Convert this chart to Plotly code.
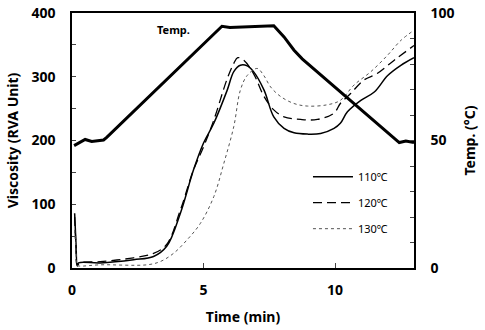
import plotly.graph_objects as go

# Temperature profile (right axis, °C)
temp_t = [0.08, 0.5, 0.75, 1.2, 1.32, 5.7, 6.0, 6.4, 7.67, 8.06, 8.44, 8.75, 12.31, 12.44, 12.69, 13.0]
temp_v = [48.0, 50.4, 49.6, 50.2, 51.2, 94.8, 94.3, 94.5, 95.0, 90.6, 85.4, 82.0, 50.2, 49.2, 49.8, 49.2]

# Viscosity 110 °C
v110_t = [0.1, 0.15, 0.2, 0.25, 1.07, 2.34, 3.1, 3.6, 4.12, 4.62, 5.0, 5.39, 5.9, 6.15, 6.4, 6.66, 6.9, 7.3, 7.67, 8.06, 8.44, 8.95, 9.45, 9.96, 10.2, 10.47, 10.98, 11.49, 12.0, 12.5, 13.0]
v110_v = [86, 40, 3, 8, 8, 13, 18, 34, 86, 154, 196, 227, 279, 308, 318, 317, 308, 279, 237, 219, 212, 210, 211, 219, 227, 245, 263, 276, 302, 318, 330]

# Viscosity 120 °C
v120_t = [0.1, 0.15, 0.2, 0.3, 1.07, 2.34, 3.1, 3.6, 4.12, 4.62, 5.0, 5.39, 5.9, 6.15, 6.3, 6.53, 6.9, 7.3, 7.67, 8.06, 8.69, 9.33, 9.96, 10.2, 10.6, 11.1, 11.6, 12.25, 13.0]
v120_v = [80, 35, 4, 8, 10, 16, 23, 37, 91, 154, 190, 232, 297, 321, 330, 326, 305, 269, 248, 237, 233, 233, 243, 258, 274, 295, 305, 326, 349]

# Viscosity 130 °C
v130_t = [0.1, 0.15, 0.2, 0.3, 1.07, 2.85, 3.35, 3.86, 4.37, 4.88, 5.39, 5.77, 6.15, 6.4, 6.66, 7.04, 7.29, 7.55, 7.93, 8.44, 8.95, 9.7, 10.2, 10.72, 11.36, 12.0, 12.5, 13.0]
v130_v = [60, 30, 4, 3, 5, 5, 10, 23, 44, 70, 112, 164, 222, 279, 302, 313, 302, 284, 269, 258, 254, 256, 263, 287, 308, 334, 357, 373]

names = ["110\u2103", "120\u2103", "130\u2103"]

FONT = "Noto Sans"

fig = go.Figure()
fig.add_trace(go.Scatter(x=v110_t, y=v110_v, mode="lines", name=names[0],
                         line=dict(color="black", width=1.5), legendgroup="a", line_shape="spline"))
fig.add_trace(go.Scatter(x=v120_t, y=v120_v, mode="lines", name=names[1],
                         line=dict(color="black", width=1.3, dash="9px,5px"), legendgroup="b", line_shape="spline"))
fig.add_trace(go.Scatter(x=v130_t, y=v130_v, mode="lines", name=names[2],
                         line=dict(color="#555555", width=1.0, dash="dot"), legendgroup="c", line_shape="spline"))
fig.add_trace(go.Scatter(x=temp_t, y=temp_v, mode="lines", name="Temp.", yaxis="y2",
                         line=dict(color="black", width=3), showlegend=False))

fig.add_annotation(x=3.85, y=93.7, yref="y2", text="<b>Temp.</b>", showarrow=False,
                   font=dict(family=FONT, size=11, color="black"), yanchor="middle")

fig.update_layout(
    width=485, height=330,
    margin=dict(l=72, r=71, t=13, b=62),
    paper_bgcolor="white", plot_bgcolor="white",
    font=dict(family=FONT, color="black"),
    xaxis=dict(range=[0, 13], tickvals=[0, 5, 10], ticks="inside", ticklen=5,
               showline=True, linecolor="black", linewidth=1.5, mirror=True,
               showgrid=False, zeroline=False, automargin=False, ticklabelstandoff=8,
               tickfont=dict(family=FONT, size=14, color="black", weight="bold"),
               title=dict(text="<b>Time (min)</b>", font=dict(family=FONT, size=14), standoff=15)),
    yaxis=dict(range=[0, 400], tickvals=[0, 50, 100, 150, 200, 250, 300, 350, 400],
               ticktext=["0", "", "100", "", "200", "", "300", "", "400"],
               ticks="inside", ticklen=4, showline=True, linecolor="black", linewidth=1.5,
               showgrid=False, zeroline=False, ticklabelstandoff=12, automargin=False,
               tickfont=dict(family=FONT, size=14, color="black", weight="bold"),
               title=dict(text="<b>Viscosity (RVA Unit)</b>", font=dict(family=FONT, size=14), standoff=10)),
    yaxis2=dict(range=[0, 100], overlaying="y", side="right",
                tickvals=[0, 10, 20, 30, 40, 50, 60, 70, 80, 90, 100],
                ticktext=["0", "", "", "", "", "50", "", "", "", "", "100"],
                ticks="inside", ticklen=4, showline=True, linecolor="black", linewidth=1.5,
                showgrid=False, zeroline=False, ticklabelstandoff=12, automargin=False,
                tickfont=dict(family=FONT, size=14, color="black", weight="bold"),
                title=dict(text="<b>Temp. (\u00b0C)</b>", font=dict(family=FONT, size=14), standoff=12)),
    legend=dict(x=0.69, y=0.415, xanchor="left", yanchor="top", bgcolor="rgba(0,0,0,0)",
                font=dict(family=FONT, size=11, color="black"), tracegroupgap=7,
                itemwidth=40),
    showlegend=True,
)

fig.write_html("out.html")
